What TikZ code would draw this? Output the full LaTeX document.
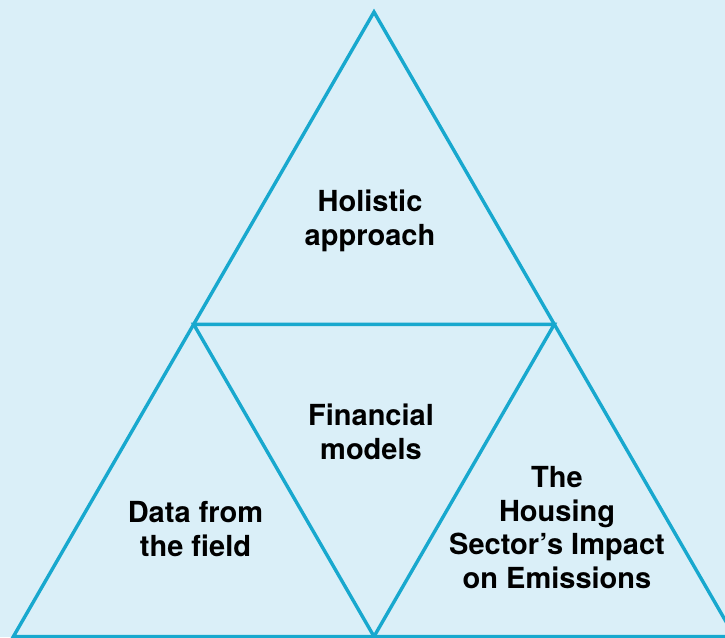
\documentclass[tikz,border=0pt]{standalone}
\usepackage{fontspec}
\setmainfont{TeX Gyre Heros}
\definecolor{bgblue}{RGB}{218,239,248}
\definecolor{edgeblue}{RGB}{24,168,206}
\begin{document}
\begin{tikzpicture}[x=1pt,y=-1pt,
  edge/.style={draw=edgeblue,line width=3.4pt,line join=miter},
  label/.style={align=center,anchor=base,inner sep=0pt,text=black,
    font=\fontsize{29}{33.5}\selectfont\bfseries}]
  % page and background
  \useasboundingbox (0,0) rectangle (725,637);
  \fill[bgblue] (0,0) rectangle (725,637);
  \clip (0,0) rectangle (725,637);
  % corners of the outer triangle and midpoints of its sides
  \coordinate (apex) at (374,12);
  \coordinate (bl) at (13.4,636.5);
  \coordinate (br) at (734.6,636.5);
  \coordinate (ml) at (193.7,324.3);
  \coordinate (mr) at (554.3,324.3);
  \coordinate (bm) at (374,636.5);
  % outer triangle and inner inverted triangle
  \draw[edge] (apex) -- (bl) -- (br) -- cycle;
  \draw[edge] (ml) -- (mr) -- (bm) -- cycle;
  % labels (anchored at the baseline of their last line)
  \node[label] (holistic) at (370,245) {Holistic\\approach};
  \node[label] (financial) at (371,459) {Financial\\models};
  \node[label] (data) at (195.5,556) {Data from\\the field};
  \node[label] (housing) at (557,588) {The\\Housing\\Sector’s Impact\\on Emissions};
\end{tikzpicture}
\end{document}
